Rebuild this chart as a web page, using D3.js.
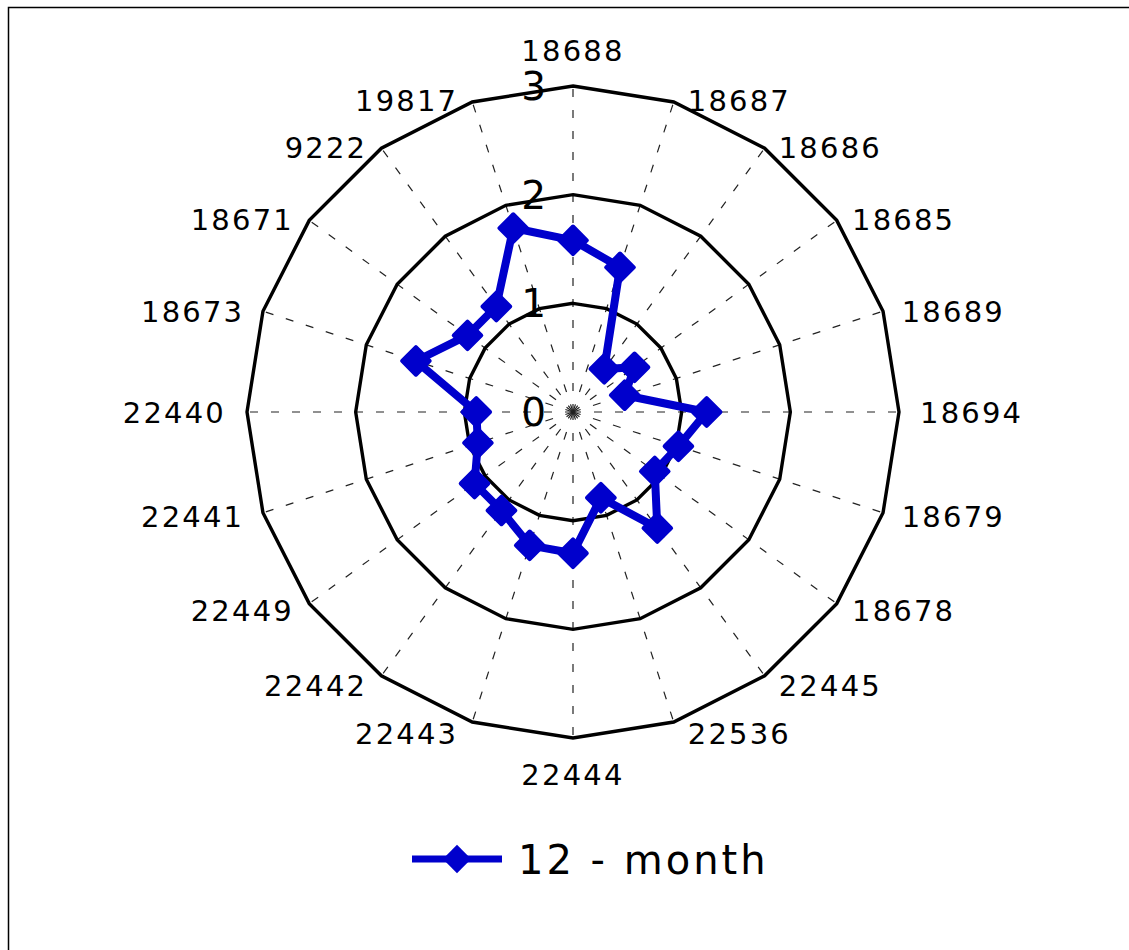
<!DOCTYPE html>
<html>
<head>
<meta charset="utf-8">
<style>
body { margin: 0; background: #fff; }
text { font-family: "DejaVu Sans", Verdana, sans-serif; fill: #000; }
</style>
</head>
<body>
<div id="diagram"></div>
<script src="https://cdn.jsdelivr.net/npm/d3@7/dist/d3.min.js"></script>
<script>

var categories = [ '18688', '18687', '18686', '18685', '18689', '18694', '18679', '18678', '22445', '22536',
	'22444', '22443', '22442', '22449', '22441', '22440', '18673', '18671', '9222', '19817' ];
var values = [ 1.58, 1.40, 0.49, 0.70, 0.50, 1.23, 1.02, 0.93, 1.32, 0.83,
	1.30, 1.29, 1.12, 1.12, 0.92, 0.89, 1.52, 1.20, 1.20, 1.78 ];
var ticks = [ 0, 1, 2, 3 ];
var series_name = '12 - month';

var canvas_size = { width: 1129, height: 950 };
var center = { x: 573, y: 412 };
var blue = '#0000cc';

var svg = d3.select( '#diagram' )
	.append( 'svg' )
		.attr( 'width', canvas_size.width )
		.attr( 'height', canvas_size.height );

// chart frame
svg.append( 'rect' )
	.attr( 'x', 8.5 ).attr( 'y', 7.5 )
	.attr( 'width', 1140 ).attr( 'height', 960 )
	.attr( 'fill', '#fff' )
	.attr( 'stroke', '#000' )
	.attr( 'stroke-width', 1.5 );

var r = d3.scaleLinear().domain( [0, 3] ).range( [0, 326] );
var angle = d3.scaleLinear().domain( [0, categories.length] ).range( [0, 2 * Math.PI] );

function pt( i, v )
{
	var a = angle( i );
	return [ center.x + r( v ) * Math.sin( a ), center.y - r( v ) * Math.cos( a ) ];
}

var g = svg.append( 'g' );

// spokes
g.selectAll( 'line.spoke' )
	.data( categories )
	.enter().append( 'line' )
		.attr( 'class', 'spoke' )
		.attr( 'x1', center.x ).attr( 'y1', center.y )
		.attr( 'x2', function( d, i ) { return pt( i, 3 )[0]; } )
		.attr( 'y2', function( d, i ) { return pt( i, 3 )[1]; } )
		.attr( 'stroke', '#222' )
		.attr( 'stroke-width', 1.2 )
		.attr( 'stroke-dasharray', '8,13' );

// rings
var ring = d3.line();
g.selectAll( 'path.ring' )
	.data( ticks.filter( function( t ) { return t > 0; } ) )
	.enter().append( 'path' )
		.attr( 'class', 'ring' )
		.attr( 'd', function( t ) { return ring( categories.map( function( c, i ) { return pt( i, t ); } ) ) + 'Z'; } )
		.attr( 'fill', 'none' )
		.attr( 'stroke', '#000' )
		.attr( 'stroke-width', 3.4 );

// tick labels
g.selectAll( 'text.tick' )
	.data( ticks )
	.enter().append( 'text' )
		.attr( 'class', 'tick' )
		.attr( 'x', center.x - 27 )
		.attr( 'y', function( t ) { return center.y - r( t ) + 14; } )
		.attr( 'text-anchor', 'end' )
		.style( 'font-size', '39px' )
		.text( function( t ) { return t; } );

// category labels
g.selectAll( 'text.cat' )
	.data( categories )
	.enter().append( 'text' )
		.attr( 'class', 'cat' )
		.each( function( d, i )
		{
			var a = angle( i ), s = Math.sin( a ), c = Math.cos( a );
			var p = pt( i, 3 );
			var x = p[0], y = p[1], anchor = 'middle';
			if( Math.abs( s ) < 0.05 )
				y = center.y - c * 362;
			else
			{
				var off = 14 + 7 * Math.pow( Math.abs( s ), 8 );
				x += s > 0 ? off : -off;
				anchor = s > 0 ? 'start' : 'end';
				y += c < 0 ? -c * 11 : -c * 2;
			}
			d3.select( this )
				.attr( 'x', x )
				.attr( 'y', y + 11 )
				.attr( 'text-anchor', anchor );
		})
		.style( 'font-size', '29px' )
		.style( 'letter-spacing', '2.2px' )
		.text( function( d ) { return d; } );

// series
var line = d3.line();
var pts = values.map( function( v, i ) { return pt( i, v ); } );
g.append( 'path' )
	.attr( 'd', line( pts ) + 'Z' )
	.attr( 'fill', 'none' )
	.attr( 'stroke', blue )
	.attr( 'stroke-width', 8 )
	.attr( 'stroke-linejoin', 'round' );

var diamond = d3.symbol().type( d3.symbolSquare ).size( 380 );
g.selectAll( 'path.marker' )
	.data( pts )
	.enter().append( 'path' )
		.attr( 'class', 'marker' )
		.attr( 'd', diamond )
		.attr( 'transform', function( p ) { return 'translate(' + p[0] + ',' + p[1] + ') rotate(45)'; } )
		.attr( 'fill', blue )
		.attr( 'stroke', blue )
		.attr( 'stroke-width', 4 )
		.attr( 'stroke-linejoin', 'round' );

// legend
var legend = svg.append( 'g' ).attr( 'transform', 'translate(412,859)' );
legend.append( 'line' )
	.attr( 'x1', 0 ).attr( 'x2', 90 )
	.attr( 'stroke', blue )
	.attr( 'stroke-width', 7 );
legend.append( 'path' )
	.attr( 'd', d3.symbol().type( d3.symbolSquare ).size( 400 ) )
	.attr( 'transform', 'translate(45,0) rotate(45)' )
	.attr( 'fill', blue );
legend.append( 'text' )
	.attr( 'x', 106 )
	.attr( 'y', 15 )
	.style( 'font-size', '40px' )
	.style( 'letter-spacing', '3px' )
	.text( series_name );

</script>
</body>
</html>
